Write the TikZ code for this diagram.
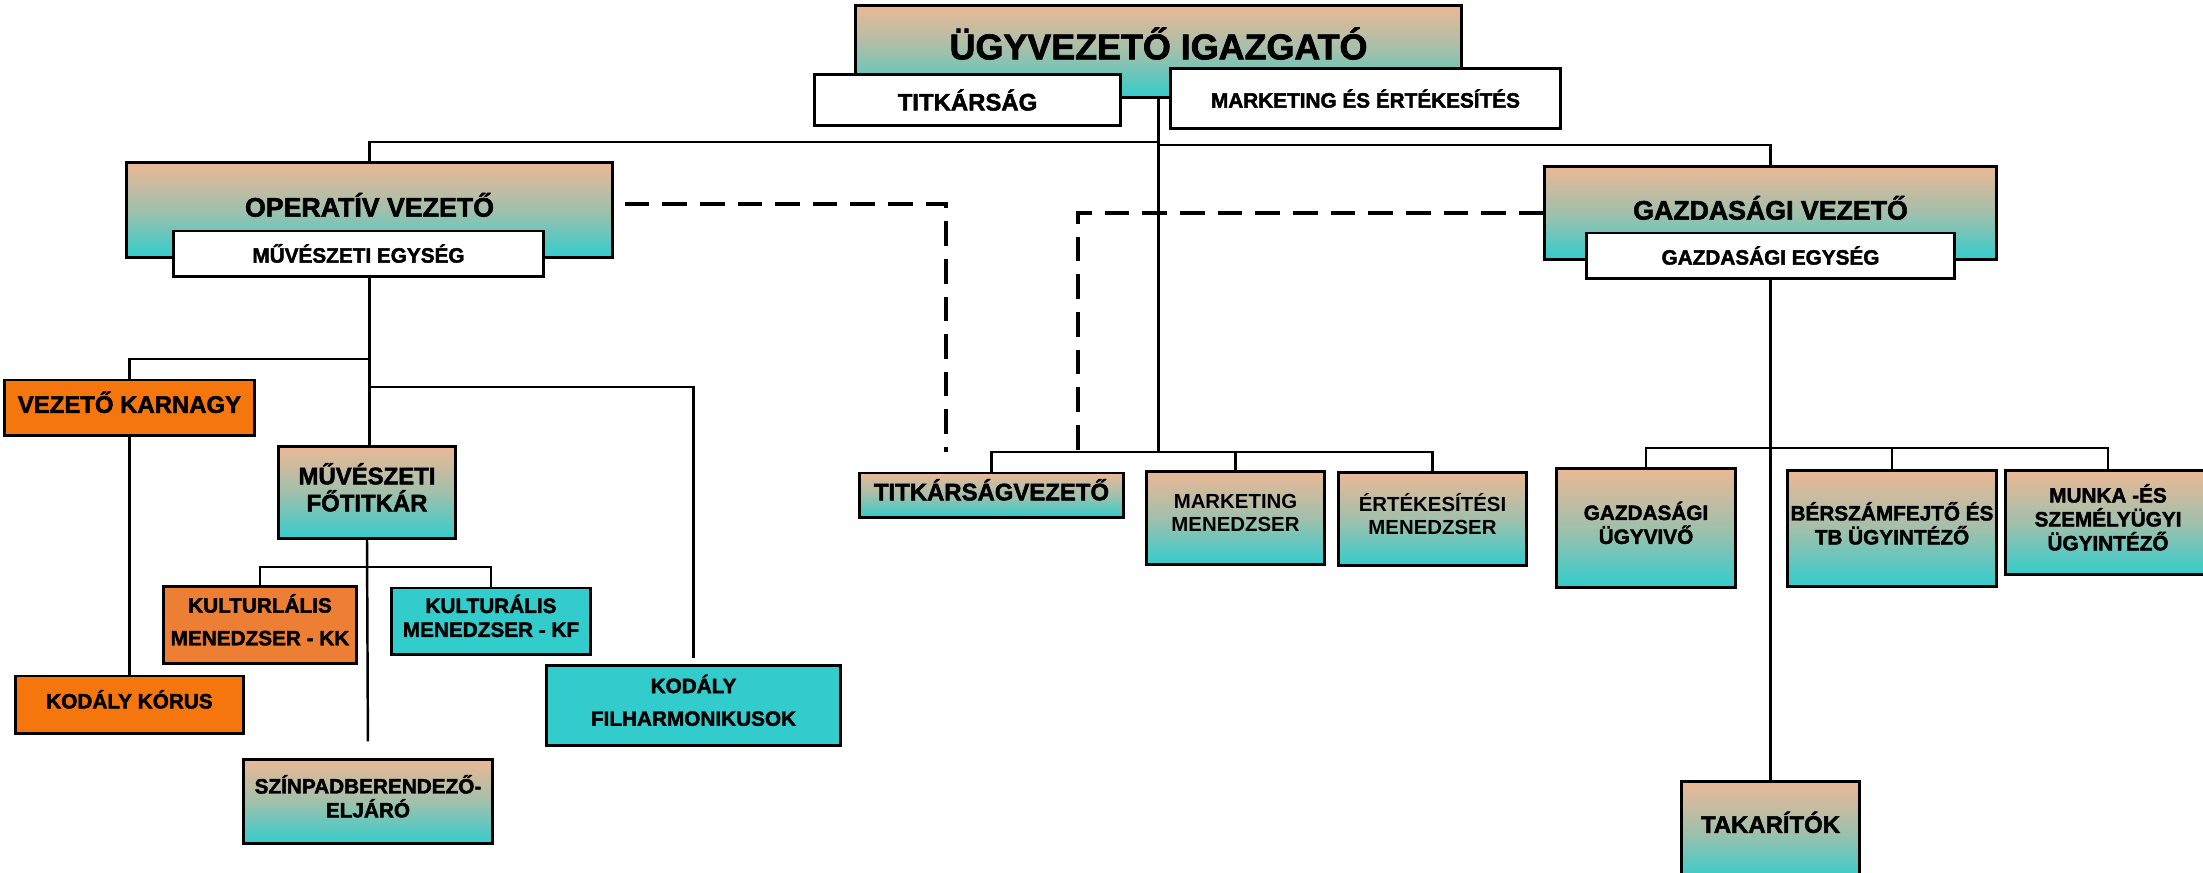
\documentclass[tikz,border=0pt]{standalone}
\usepackage{fontspec}
\setmainfont{Liberation Sans}
\newfontfamily\heavyfont{Liberation Sans}[BoldFeatures={FakeBold=2}]
\definecolor{peachtop}{RGB}{234,184,150}
\definecolor{cyanbot}{RGB}{51,204,204}
\definecolor{orangedark}{RGB}{244,118,12}
\definecolor{orangelight}{RGB}{237,127,52}

\begin{document}
\begin{tikzpicture} [
    x=0.01cm, y=-0.01cm,
    box/.style={rectangle, draw, line width=0.85pt, inner sep=1pt, align=center},
    plain/.style={box, fill=white},
    grad/.style={box, top color=peachtop, bottom color=cyanbot, middle color=peachtop!60!cyanbot, text depth=3pt},
    orng/.style={box, fill=orangedark, text depth=3pt},
    orngl/.style={box, fill=orangelight, text depth=3pt},
    cyanbox/.style={box, fill=cyanbot, text depth=3pt},
    big/.style={font=\heavyfont\bfseries\fontsize{10.2}{12}\selectfont},
    lvla/.style={font=\heavyfont\bfseries\fontsize{7.6}{9}\selectfont},
    lvlb/.style={font=\heavyfont\bfseries\fontsize{6.8}{7.7}\selectfont},
    lvlc/.style={font=\heavyfont\bfseries\fontsize{5.9}{6.8}\selectfont},
    plainc/.style={font=\bfseries\fontsize{5.8}{6.5}\selectfont},
    line/.style={line width=0.7pt},
    dashline/.style={line width=1.4pt, dash pattern=on 7pt off 3.7pt}
]
    \useasboundingbox (0,0) rectangle (2203,872);

    % vezetes
    \node[grad, big, text depth=4.6pt, minimum width=6.05cm, minimum height=0.91cm] (ceo) at (1158.5,51.5) {ÜGYVEZETŐ IGAZGATÓ};
    \node[plain, lvlb, minimum width=3.05cm, minimum height=0.5cm] (titk) at (967.5,100) {TITKÁRSÁG};
    \node[plain, lvlc, minimum width=3.89cm, minimum height=0.59cm] (mark) at (1365.5,98.5) {MARKETING ÉS ÉRTÉKESÍTÉS};

    % operativ ag
    \node[grad, lvla, minimum width=4.85cm, minimum height=0.94cm] (oper) at (369.5,210) {OPERATÍV VEZETŐ};
    \node[plain, lvlc, minimum width=3.69cm, minimum height=0.45cm] (muvegys) at (358.5,253.5) {MŰVÉSZETI EGYSÉG};
    \node[orng, lvlb, minimum width=2.49cm, minimum height=0.55cm] (karnagy) at (129.5,407.5) {VEZETŐ KARNAGY};
    \node[grad, lvlb, minimum width=1.76cm, minimum height=0.91cm] (fotitkar) at (367,492.5) {MŰVÉSZETI\\FŐTITKÁR};
    \node[orngl, lvlc, minimum width=1.92cm, minimum height=0.76cm] (kultkk) at (260,625) {KULTURLÁLIS\\[2.5pt]MENEDZSER - KK};
    \node[cyanbox, lvlc, minimum width=1.98cm, minimum height=0.66cm] (kultkf) at (491,621) {KULTURÁLIS\\MENEDZSER - KF};
    \node[orng, lvlc, minimum width=2.27cm, minimum height=0.57cm] (korus) at (129.5,704.5) {KODÁLY KÓRUS};
    \node[cyanbox, lvlc, minimum width=2.93cm, minimum height=0.79cm] (filh) at (693.5,705.5) {KODÁLY\\[2.5pt]FILHARMONIKUSOK};
    \node[grad, lvlc, minimum width=2.48cm, minimum height=0.83cm] (szinpad) at (368,801.5) {SZÍNPADBERENDEZŐ-\\ELJÁRÓ};

    % titkarsag, marketing
    \node[grad, lvlb, minimum width=2.63cm, minimum height=0.44cm] (titkvez) at (991.5,495) {TITKÁRSÁGVEZETŐ};
    \node[grad, plainc, minimum width=1.77cm, minimum height=0.92cm] (markmen) at (1235.5,518) {MARKETING\\MENEDZSER};
    \node[grad, plainc, minimum width=1.87cm, minimum height=0.92cm] (ertmen) at (1432.5,519) {ÉRTÉKESÍTÉSI\\MENEDZSER};

    % gazdasagi ag
    \node[grad, lvla, minimum width=4.51cm, minimum height=0.92cm] (gazd) at (1770.5,213) {GAZDASÁGI VEZETŐ};
    \node[plain, lvlc, minimum width=3.67cm, minimum height=0.45cm] (gazdegys) at (1770.5,255.5) {GAZDASÁGI EGYSÉG};
    \node[grad, lvlc, minimum width=1.78cm, minimum height=1.18cm] (gazdugyv) at (1646,528) {GAZDASÁGI\\ÜGYVIVŐ};
    \node[grad, lvlc, minimum width=2.08cm, minimum height=1.15cm] (bersz) at (1892,528.5) {BÉRSZÁMFEJTŐ ÉS\\TB ÜGYINTÉZŐ};
    \node[grad, lvlc, minimum width=2.04cm, minimum height=1.03cm] (munka) at (2108,522.5) {MUNKA -ÉS\\SZEMÉLYÜGYI\\ÜGYINTÉZŐ};
    \node[grad, lvlb, text depth=5pt, minimum width=1.77cm, minimum height=0.98cm] (takar) at (1770.5,831) {TAKARÍTÓK};

    % buszok
    \coordinate (lbus) at (1158.5,142);
    \coordinate (rbus) at (1158.5,145);
    \coordinate (midbus) at (1158.5,452);
    \coordinate (kbus) at (369.5,359);
    \coordinate (fbus) at (369.5,387);
    \coordinate (kultbus) at (367,567);
    \coordinate (gbus) at (1770.5,448);
    \coordinate (dashl) at (946,452);
    \coordinate (dashr) at (1078,452);

    % kapcsolatok
    \draw[line] (ceo.south) -- (midbus);
    \draw[line] (lbus) -| (oper.north);
    \draw[line] (rbus) -| (gazd.north);
    \draw[line] (titkvez.north) |- (midbus) -| (ertmen.north);
    \draw[line] (markmen.north) -- (markmen.north |- midbus);

    \draw[line] (oper.south |- muvegys.south) -- (oper.south |- fotitkar.north);
    \draw[line] (kbus) -| (karnagy.north);
    \draw[line, shorten >=0.06cm] (fbus) -| (filh.north);
    \draw[line] (karnagy.south) -- (korus.north);
    \draw[line, shorten >=0.17cm] (fotitkar.south) -- (szinpad.north);
    \draw[line] (kultkk.north) |- (kultbus) -| (kultkf.north);

    \draw[line] (gazdegys.south) -- (takar.north);
    \draw[line] (gazdugyv.north) |- (gbus) -| (munka.north);
    \draw[line] (bersz.north) -- (bersz.north |- gbus);

    % szaggatott
    \draw[dashline, shorten <=0.11cm] ([yshift=0.06cm]oper.east) -| (dashl);
    \draw[dashline] (gazd.west) -| (dashr);
\end{tikzpicture}
\end{document}
